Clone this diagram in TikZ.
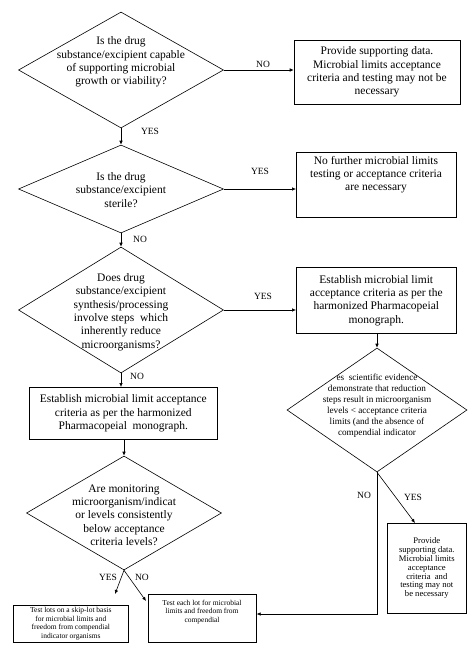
\documentclass[tikz,border=0pt]{standalone}
\usepackage{fontspec}
\setmainfont{Liberation Serif}
\usetikzlibrary{shapes.geometric,arrows.meta}
\tikzset{
  dia/.style={draw, diamond, inner sep=0pt, line width=0.6pt},
  boxn/.style={draw, rectangle, line width=0.6pt},
  txt/.style={align=center, inner sep=0pt},
  big/.style={font=\fontsize{11.5}{13.3}\selectfont},
  mid/.style={font=\fontsize{9.2}{11}\selectfont},
  sml/.style={font=\fontsize{7.5}{8.5}\selectfont},
  smr/.style={font=\fontsize{8.6}{8.8}\selectfont},
  lab/.style={font=\fontsize{9.5}{11}\selectfont, inner sep=0pt},
  arr/.style={-{Latex[length=4pt,width=3.5pt]}, line width=0.6pt},
  ln/.style={line width=0.6pt}
}
\begin{document}
\begin{tikzpicture}[x=1pt,y=-1pt]
\useasboundingbox (0,0) rectangle (474,648);
\fill[white] (0,0) rectangle (474,648);

% Diamond 1
\node[dia, minimum width=205, minimum height=116] (d1) at (121,70) {};
\node[txt,big] (t1) at (121,62) {Is the drug\\substance/excipient capable\\of supporting microbial\\growth or viability?};
% Box 1
\node[boxn, minimum width=166, minimum height=64] (b1) at (377,72) {};
\node[txt,big] (tb1) at (b1.center) {Provide supporting data.\\Microbial limits acceptance\\criteria and testing may not be\\necessary};

% Diamond 2
\node[dia, minimum width=205, minimum height=88] (d2) at (121,189) {};
\node[txt,big] (t2) at (121,190) {Is the drug\\substance/excipient\\sterile?};
% Box 2
\node[boxn, minimum width=160, minimum height=65, anchor=north west] (b2) at (296,152) {};
\node[txt,big,anchor=north] (tb2) at (376,156) {No further microbial limits\\testing or acceptance criteria\\are necessary};

% Diamond 3
\node[dia, minimum width=205, minimum height=126] (d3) at (121,310) {};
\node[txt,big] (t3) at (121,312) {Does drug\\substance/excipient\\synthesis/processing\\involve steps\ \ which\\inherently reduce\\microorganisms?};
% Box 3
\node[boxn, minimum width=160, minimum height=66, anchor=north west] (b3) at (296,267) {};
\node[txt,big] (tb3) at (b3.center) {Establish microbial limit\\acceptance criteria as per the\\harmonized Pharmacopeial\\monograph.};

% Diamond 4
\node[dia, minimum width=180, minimum height=124] (d4) at (377,410) {};
\node[txt,mid] (t4) at (377,406) {es\ \ scientific evidence\\demonstrate that reduction\\steps result in microorganism\\levels < acceptance criteria\\limits (and the absence of\\compendial indicator};

% Box 4
\node[boxn, minimum width=188, minimum height=52, anchor=north west] (b4) at (29,387) {};
\node[txt,big] (tb4) at (b4.center) {Establish microbial limit acceptance\\criteria as per the harmonized\\Pharmacopeial\ \ monograph.};

% Diamond 5
\node[dia, minimum width=195, minimum height=114] (d5) at (124,513) {};
\node[txt,big] (t5) at (124,515) {Are monitoring\\microorganism/indicat\\or levels consistently\\below acceptance\\criteria levels?};

% Box 6
\node[boxn, minimum width=79, minimum height=90, anchor=north west] (b6) at (387,523) {};
\node[txt,smr] (tb6) at (b6.center) {Provide\\supporting data.\\Microbial limits\\acceptance\\criteria\ \ and\\testing may not\\be necessary};

% Box 7
\node[boxn, minimum width=115, minimum height=37, anchor=north west] (b7) at (13,605) {};
\node[txt,sml] (tb7) at (b7.center) {Test lots on a skip-lot basis\\for microbial limits and\\freedom from compendial\\indicator organisms};

% Box 5
\node[boxn, minimum width=108, minimum height=48, anchor=north west] (b5) at (148,594) {};
\node[txt,sml,anchor=north] (tb5) at (202,600) {Test each lot for microbial\\limits and freedom from\\compendial};

% Connectors
\draw[arr] (d1.east) -- (d1.east -| b1.west);
\node[lab] (l1) at (263,64) {NO};
\draw[arr] (d1.south) -- (d2.north);
\node[lab] (l2) at (150,131) {YES};
\draw[arr] (d2.east) -- (d2.east -| b2.west);
\node[lab] (l3) at (260,171) {YES};
\draw[arr] (d2.south) -- (d3.north);
\node[lab] (l4) at (140,239) {NO};
\draw[arr] (d3.east) -- (d3.east -| b3.west);
\node[lab] (l5) at (263,296) {YES};
\draw[arr] (b3.south -| d4.north) -- (d4.north);
\draw[arr] (d3.south) -- (d3.south |- b4.north);
\node[lab] (l6) at (137,376) {NO};
\draw[arr] (b4.south -| d5.north) -- (d5.north);

\coordinate (c1) at (379,614);
\draw[arr] (d4.south) -- (d4.south |- c1) -- (c1 -| b5.east);
\node[lab] (l7) at (364,495) {NO};
\coordinate (c2) at (415,523);
\draw[arr] (d4.south) -- (c2);
\node[lab] (l8) at (413,497) {YES};

\coordinate (c3) at (115,594);
\coordinate (c4) at (146,601);
\draw[arr] (d5.south) -- (c3);
\draw[arr] (d5.south) -- (c4);
\node[lab] (l9) at (108,577) {YES};
\node[lab] (l10) at (142,577) {NO};
\end{tikzpicture}
\end{document}
